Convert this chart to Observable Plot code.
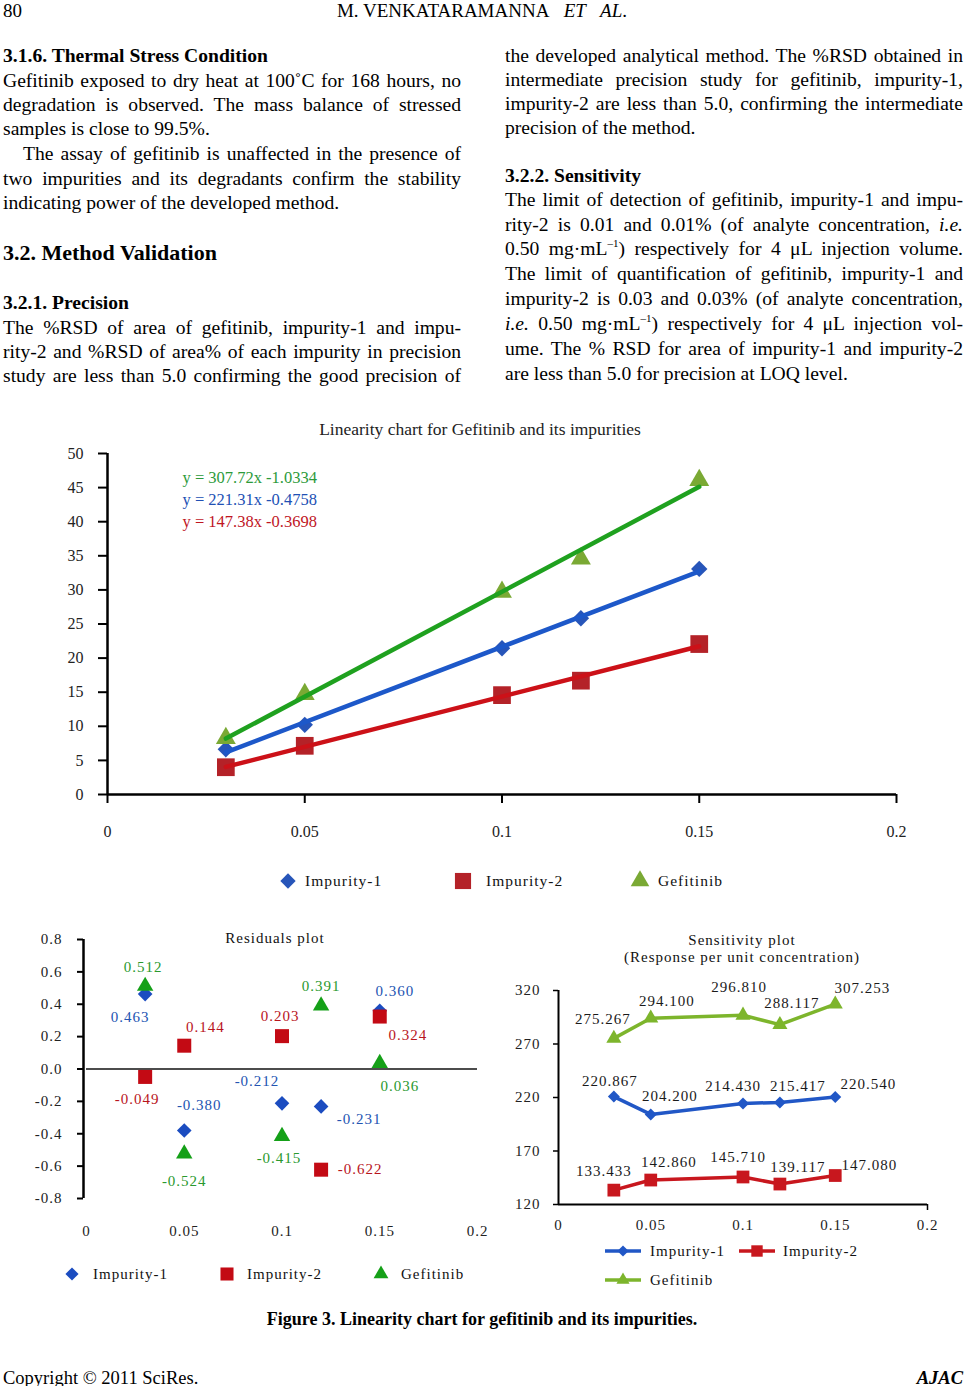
<!DOCTYPE html>
<html><head><meta charset="utf-8">
<script src="https://cdn.jsdelivr.net/npm/d3@7"></script>
<script src="https://cdn.jsdelivr.net/npm/@observablehq/plot@0.6"></script>
<style>
html,body{margin:0;padding:0;background:#fff}
body{width:965px;height:1386px;position:relative;overflow:hidden;font-family:"Liberation Serif","Times New Roman",serif;color:#000}
.a{position:absolute;white-space:nowrap}
.ln{position:absolute;width:458px;height:25px;line-height:25px;font-size:19.6px;text-align:justify;text-align-last:justify;white-space:nowrap;overflow:visible}
.ln.last{text-align-last:left}
.hd{position:absolute;font-weight:bold;font-size:19.6px;line-height:25px;white-space:nowrap}
sup{font-size:11px;vertical-align:8px;line-height:0}
.ct{transform:translate(-50%,-50%)}
.chartlab{font-size:15px;letter-spacing:1px;color:#111}
</style></head><body>

<div class="a" style="left:3px;top:0px;font-size:19px;line-height:22px">80</div>
<div class="a ct" style="left:482px;top:11px;font-size:19px">M. VENKATARAMANNA&nbsp;&nbsp;&nbsp;<i>ET</i>&nbsp;&nbsp;&nbsp;<i>AL</i>.</div>

<div class="hd" style="left:3px;top:43px">3.1.6. Thermal Stress Condition</div>
<div class="ln" style="left:3px;top:68px">Gefitinib exposed to dry heat at 100˚C for 168 hours, no</div>
<div class="ln" style="left:3px;top:92px">degradation is observed. The mass balance of stressed</div>
<div class="ln last" style="left:3px;top:116px">samples is close to 99.5%.</div>
<div class="ln" style="left:23px;width:438px;top:141px">The assay of gefitinib is unaffected in the presence of</div>
<div class="ln" style="left:3px;top:166px">two impurities and its degradants confirm the stability</div>
<div class="ln last" style="left:3px;top:190px">indicating power of the developed method.</div>
<div class="hd" style="left:3px;top:238px;font-size:22px;line-height:30px">3.2. Method Validation</div>
<div class="hd" style="left:3px;top:290px">3.2.1. Precision</div>
<div class="ln" style="left:3px;top:315px">The %RSD of area of gefitinib, impurity-1 and impu-</div>
<div class="ln" style="left:3px;top:339px">rity-2 and %RSD of area% of each impurity in precision</div>
<div class="ln" style="left:3px;top:363px">study are less than 5.0 confirming the good precision of</div>

<div class="ln" style="left:505px;top:43px">the developed analytical method. The %RSD obtained in</div>
<div class="ln" style="left:505px;top:67px">intermediate precision study for gefitinib, impurity-1,</div>
<div class="ln" style="left:505px;top:91px">impurity-2 are less than 5.0, confirming the intermediate</div>
<div class="ln last" style="left:505px;top:115px">precision of the method.</div>
<div class="hd" style="left:505px;top:163px">3.2.2. Sensitivity</div>
<div class="ln" style="left:505px;top:187px">The limit of detection of gefitinib, impurity-1 and impu-</div>
<div class="ln" style="left:505px;top:212px">rity-2 is 0.01 and 0.01% (of analyte concentration, <i>i.e.</i></div>
<div class="ln" style="left:505px;top:236px">0.50 mg·mL<sup>–1</sup>) respectively for 4 μL injection volume.</div>
<div class="ln" style="left:505px;top:261px">The limit of quantification of gefitinib, impurity-1 and</div>
<div class="ln" style="left:505px;top:286px">impurity-2 is 0.03 and 0.03% (of analyte concentration,</div>
<div class="ln" style="left:505px;top:311px"><i>i.e.</i> 0.50 mg·mL<sup>–1</sup>) respectively for 4 μL injection vol-</div>
<div class="ln" style="left:505px;top:336px">ume. The % RSD for area of impurity-1 and impurity-2</div>
<div class="ln last" style="left:505px;top:361px">are less than 5.0 for precision at LOQ level.</div>

<div class="a ct" style="left:480px;top:429px;font-size:17.5px;color:#222">Linearity chart for Gefitinib and its impurities</div>
<div class="a ct chartlab" style="left:275px;top:938px">Residuals plot</div>
<div class="a ct chartlab" style="left:742px;top:940px">Sensitivity plot</div>
<div class="a ct chartlab" style="left:742px;top:957px">(Response per unit concentration)</div>

<div id="mainChart" class="a" style="left:0px;top:440px"></div>
<div id="residChart" class="a" style="left:0px;top:925px"></div>
<div id="sensChart" class="a" style="left:500px;top:975px"></div>
<div id="legends"></div>

<div class="a ct" style="left:482px;top:1319px;font-size:18px;font-weight:bold">Figure 3. Linearity chart for gefitinib and its impurities.</div>
<div class="a" style="left:3px;top:1367px;font-size:18.5px;line-height:22px">Copyright © 2011 SciRes.</div>
<div class="a" style="right:2px;top:1367px;font-size:18.5px;line-height:22px;font-weight:bold;font-style:italic">AJAC</div>

<script>
// ---------- DATA ----------
const seriesNames = ["Impurity-1", "Impurity-2", "Gefitinib"];
const concentration = [0.03, 0.05, 0.1, 0.12, 0.15];
// Linearity: peak area vs concentration
const areaImpurity1 = [6.63, 10.21, 21.44, 25.85, 33.08];
const areaImpurity2 = [4.00, 7.14, 14.57, 16.69, 22.06];
const areaGefitinib = [8.26, 14.71, 29.68, 34.57, 46.09];
const equations = ["y = 307.72x -1.0334", "y = 221.31x -0.4758", "y = 147.38x -0.3698"];
// Residuals
const residualImpurity1 = [0.463, -0.380, -0.212, -0.231, 0.360];
const residualImpurity2 = [-0.049, 0.144, 0.203, -0.622, 0.324];
const residualGefitinib = [0.512, -0.524, -0.415, 0.391, 0.036];
// Sensitivity (response per unit concentration)
const responseImpurity1 = [220.867, 204.200, 214.430, 215.417, 220.540];
const responseImpurity2 = [133.433, 142.860, 145.710, 139.117, 147.080];
const responseGefitinib = [275.267, 294.100, 296.810, 288.117, 307.253];
// Axis ticks
const xTicks = [0, 0.05, 0.1, 0.15, 0.2];
const xTickLabels = ["0", "0.05", "0.1", "0.15", "0.2"];
const linearityTicksY = [0, 5, 10, 15, 20, 25, 30, 35, 40, 45, 50];
const residualTicksY = [-0.8, -0.6, -0.4, -0.2, 0, 0.2, 0.4, 0.6, 0.8];
const sensitivityTicksY = [120, 170, 220, 270, 320];

// ---------- STYLE ----------
const symbols = {"Impurity-1": "diamond2", "Impurity-2": "square", "Gefitinib": "triangle"};
const d3symbols = {"Impurity-1": d3.symbolDiamond2, "Impurity-2": d3.symbolSquare, "Gefitinib": d3.symbolTriangle};
const linLine = {"Impurity-1": "#1d58c9", "Impurity-2": "#cc1118", "Gefitinib": "#1fa11f"};
const linMark = {"Impurity-1": "#2755b9", "Impurity-2": "#b42228", "Gefitinib": "#7aa934"};
const linR = {"Impurity-1": 7.4, "Impurity-2": 10, "Gefitinib": 7.4};
const eqColors = ["#2c9a3a", "#2150b4", "#c0161f"];
const resMark = {"Impurity-1": "#1b4cc0", "Impurity-2": "#c30a14", "Gefitinib": "#15a018"};
const resText = {"Impurity-1": "#2354b2", "Impurity-2": "#b8141c", "Gefitinib": "#2a992e"};
const resR = {"Impurity-1": 6.6, "Impurity-2": 7.9, "Gefitinib": 6.1};
const sensColor = {"Impurity-1": "#2157c6", "Impurity-2": "#c8171e", "Gefitinib": "#7db52c"};
const sensR = {"Impurity-1": 5.4, "Impurity-2": 7.2, "Gefitinib": 5.6};
const residualLabelOffsets = {
  "Impurity-1": [[-15, 23], [15, -25], [-25, -22], [38, 13], [15, -20]],
  "Impurity-2": [[-8, 22], [21, -19], [-2, -20], [39, 0], [28, 19]],
  "Gefitinib": [[-2, -19], [0, 27], [-3, 22], [0, -20], [20, 23]]
};
const sensitivityLabelOffsets = {
  "Impurity-1": [[-4, -15], [19, -18], [-10, -17], [18, -16], [33, -13]],
  "Impurity-2": [[-10, -19], [18, -18], [-5, -20], [18, -17], [34, -10]],
  "Gefitinib": [[-11, -19], [16, -17], [-4, -28], [12, -21], [27, -16]]
};

const rows = (vals) => seriesNames.flatMap((s, i) => concentration.map((c, j) => ({series: s, x: c, y: vals[i][j], idx: j})));
const linRows = rows([areaImpurity1, areaImpurity2, areaGefitinib]);
const resRows = rows([residualImpurity1, residualImpurity2, residualGefitinib]);
const sensRows = rows([responseImpurity1, responseImpurity2, responseGefitinib]);
const xFmt = d => xTickLabels[xTicks.indexOf(d)];

// ---------- MAIN LINEARITY CHART ----------
const main = Plot.plot({
  width: 965, height: 404,
  marginLeft: 107, marginRight: 69, marginTop: 13, marginBottom: 50,
  style: {fontFamily: '"Liberation Serif", serif', fontSize: "16px", background: "transparent", color: "#000", overflow: "visible"},
  x: {domain: [0, 0.2], label: null},
  y: {domain: [0, 50], label: null},
  marks: [
    Plot.axisY({ticks: linearityTicksY, tickSize: 9, tickPadding: 15, strokeWidth: 2, tickFormat: d => String(d), fill: "#222"}),
    Plot.axisX({ticks: xTicks, tickSize: 9, tickPadding: 22, strokeWidth: 2, tickFormat: xFmt, fill: "#222"}),
    ...seriesNames.map(s => Plot.dot(linRows.filter(d => d.series === s), {x: "x", y: "y", symbol: () => symbols[s], r: linR[s], fill: linMark[s]})),
    ...seriesNames.map(s => Plot.linearRegressionY(linRows.filter(d => d.series === s), {x: "x", y: "y", stroke: linLine[s], strokeWidth: 4.5, ci: 0})),
    Plot.ruleX([0], {strokeWidth: 2.5}),
    Plot.ruleY([0], {strokeWidth: 2.5}),
    ...equations.map((e, i) => Plot.text([e], {text: d => d, frameAnchor: "top-left", textAnchor: "start", lineAnchor: "middle", dx: 75, dy: 24 + 22 * i, fill: eqColors[i], fontSize: 16.5, letterSpacing: "0.3px"}))
  ],
  symbol: {type: "identity"}
});
document.getElementById("mainChart").appendChild(main);

// ---------- RESIDUALS ----------
const resid = Plot.plot({
  width: 490, height: 318,
  marginLeft: 86, marginRight: 13, marginTop: 14, marginBottom: 45,
  style: {fontFamily: '"Liberation Serif", serif', fontSize: "15px", letterSpacing: "1px", background: "transparent", color: "#000", overflow: "visible"},
  x: {domain: [0, 0.2], label: null},
  y: {domain: [-0.8, 0.8], label: null},
  symbol: {type: "identity"},
  marks: [
    Plot.axisY({ticks: residualTicksY, tickSize: 6, tickPadding: 15, dx: -3, strokeWidth: 2, tickFormat: d => d.toFixed(1), fill: "#222"}),
    Plot.axisX({ticks: xTicks, tickSize: 0, tickPadding: 27, tickFormat: xFmt, fill: "#222"}),
    Plot.ruleX([0], {dx: -3, strokeWidth: 2.5}),
    Plot.ruleY([0], {strokeWidth: 1.5, stroke: "#111"}),
    ...seriesNames.map(s => Plot.dot(resRows.filter(d => d.series === s), {x: "x", y: "y", symbol: () => symbols[s], r: resR[s], fill: resMark[s]})),
    ...resRows.map(d => Plot.text([d], {x: "x", y: "y", text: r => r.y.toFixed(3), fill: resText[d.series], dx: residualLabelOffsets[d.series][d.idx][0], dy: residualLabelOffsets[d.series][d.idx][1]}))
  ]
});
document.getElementById("residChart").appendChild(resid);

// ---------- SENSITIVITY ----------
const sens = Plot.plot({
  width: 445, height: 264,
  marginLeft: 58, marginRight: 18, marginTop: 15, marginBottom: 35,
  style: {fontFamily: '"Liberation Serif", serif', fontSize: "15px", letterSpacing: "1px", background: "transparent", color: "#000", overflow: "visible"},
  x: {domain: [0, 0.2], label: null},
  y: {domain: [120, 320], label: null},
  symbol: {type: "identity"},
  marks: [
    Plot.axisY({ticks: sensitivityTicksY, tickSize: 5, tickPadding: 13, strokeWidth: 1.5, fill: "#222"}),
    Plot.axisX({ticks: xTicks, tickSize: 0, tickPadding: 15, tickFormat: xFmt, fill: "#222"}),
    Plot.ruleX([0], {strokeWidth: 2}),
    Plot.ruleY([120], {strokeWidth: 2}),
    Plot.ruleX([0.2], {y1: 120, y2: 120, dy: 0, insetBottom: -6, strokeWidth: 1.5}),
    ...seriesNames.map(s => Plot.line(sensRows.filter(d => d.series === s), {x: "x", y: "y", stroke: sensColor[s], strokeWidth: 3.5})),
    ...seriesNames.map(s => Plot.dot(sensRows.filter(d => d.series === s), {x: "x", y: "y", symbol: () => symbols[s], r: sensR[s], fill: sensColor[s]})),
    ...sensRows.map(d => Plot.text([d], {x: "x", y: "y", text: r => r.y.toFixed(3), fill: "#1a1a1a", dx: sensitivityLabelOffsets[d.series][d.idx][0], dy: sensitivityLabelOffsets[d.series][d.idx][1]}))
  ]
});
document.getElementById("sensChart").appendChild(sens);

// ---------- LEGENDS (HTML) ----------
function legendItem(cx, cy, s, color, symSize, textX, fontSize, line) {
  const w = line ? 40 : 24, h = 24;
  const svg = d3.create("svg").attr("width", w).attr("height", h)
    .style("position", "absolute").style("left", (cx - w / 2) + "px").style("top", (cy - h / 2) + "px").style("overflow", "visible");
  if (line) svg.append("line").attr("x1", 2).attr("x2", w - 2).attr("y1", h / 2).attr("y2", h / 2).attr("stroke", color).attr("stroke-width", 3.5);
  svg.append("path").attr("d", d3.symbol(d3symbols[s], symSize)()).attr("transform", `translate(${w / 2},${h / 2})`).attr("fill", color);
  const leg = document.getElementById("legends");
  leg.appendChild(svg.node());
  const t = document.createElement("div");
  t.className = "a";
  t.textContent = s;
  t.style.cssText = `left:${textX}px;top:${cy - 11}px;line-height:22px;font-size:${fontSize}px;letter-spacing:1px;color:#111`;
  leg.appendChild(t);
}
const mainLegend = [[288, 305], [463, 486], [640, 658]];
const mainLegSize = {"Impurity-1": 150, "Impurity-2": 260, "Gefitinib": 150};
seriesNames.forEach((s, i) => legendItem(mainLegend[i][0], 881, s, linMark[s], mainLegSize[s], mainLegend[i][1], 15.5, false));
const resLegend = [[72, 93], [227, 247], [381, 401]];
const resLegSize = {"Impurity-1": 110, "Impurity-2": 170, "Gefitinib": 95};
seriesNames.forEach((s, i) => legendItem(resLegend[i][0], 1274, s, resMark[s], resLegSize[s], resLegend[i][1], 15, false));
const sensLegend = [[623, 1251, 650], [757, 1251, 783], [623, 1280, 650]];
const sensLegSize = {"Impurity-1": 80, "Impurity-2": 130, "Gefitinib": 75};
seriesNames.forEach((s, i) => legendItem(sensLegend[i][0], sensLegend[i][1], s, sensColor[s], sensLegSize[s], sensLegend[i][2], 15, true));
</script>
</body></html>
